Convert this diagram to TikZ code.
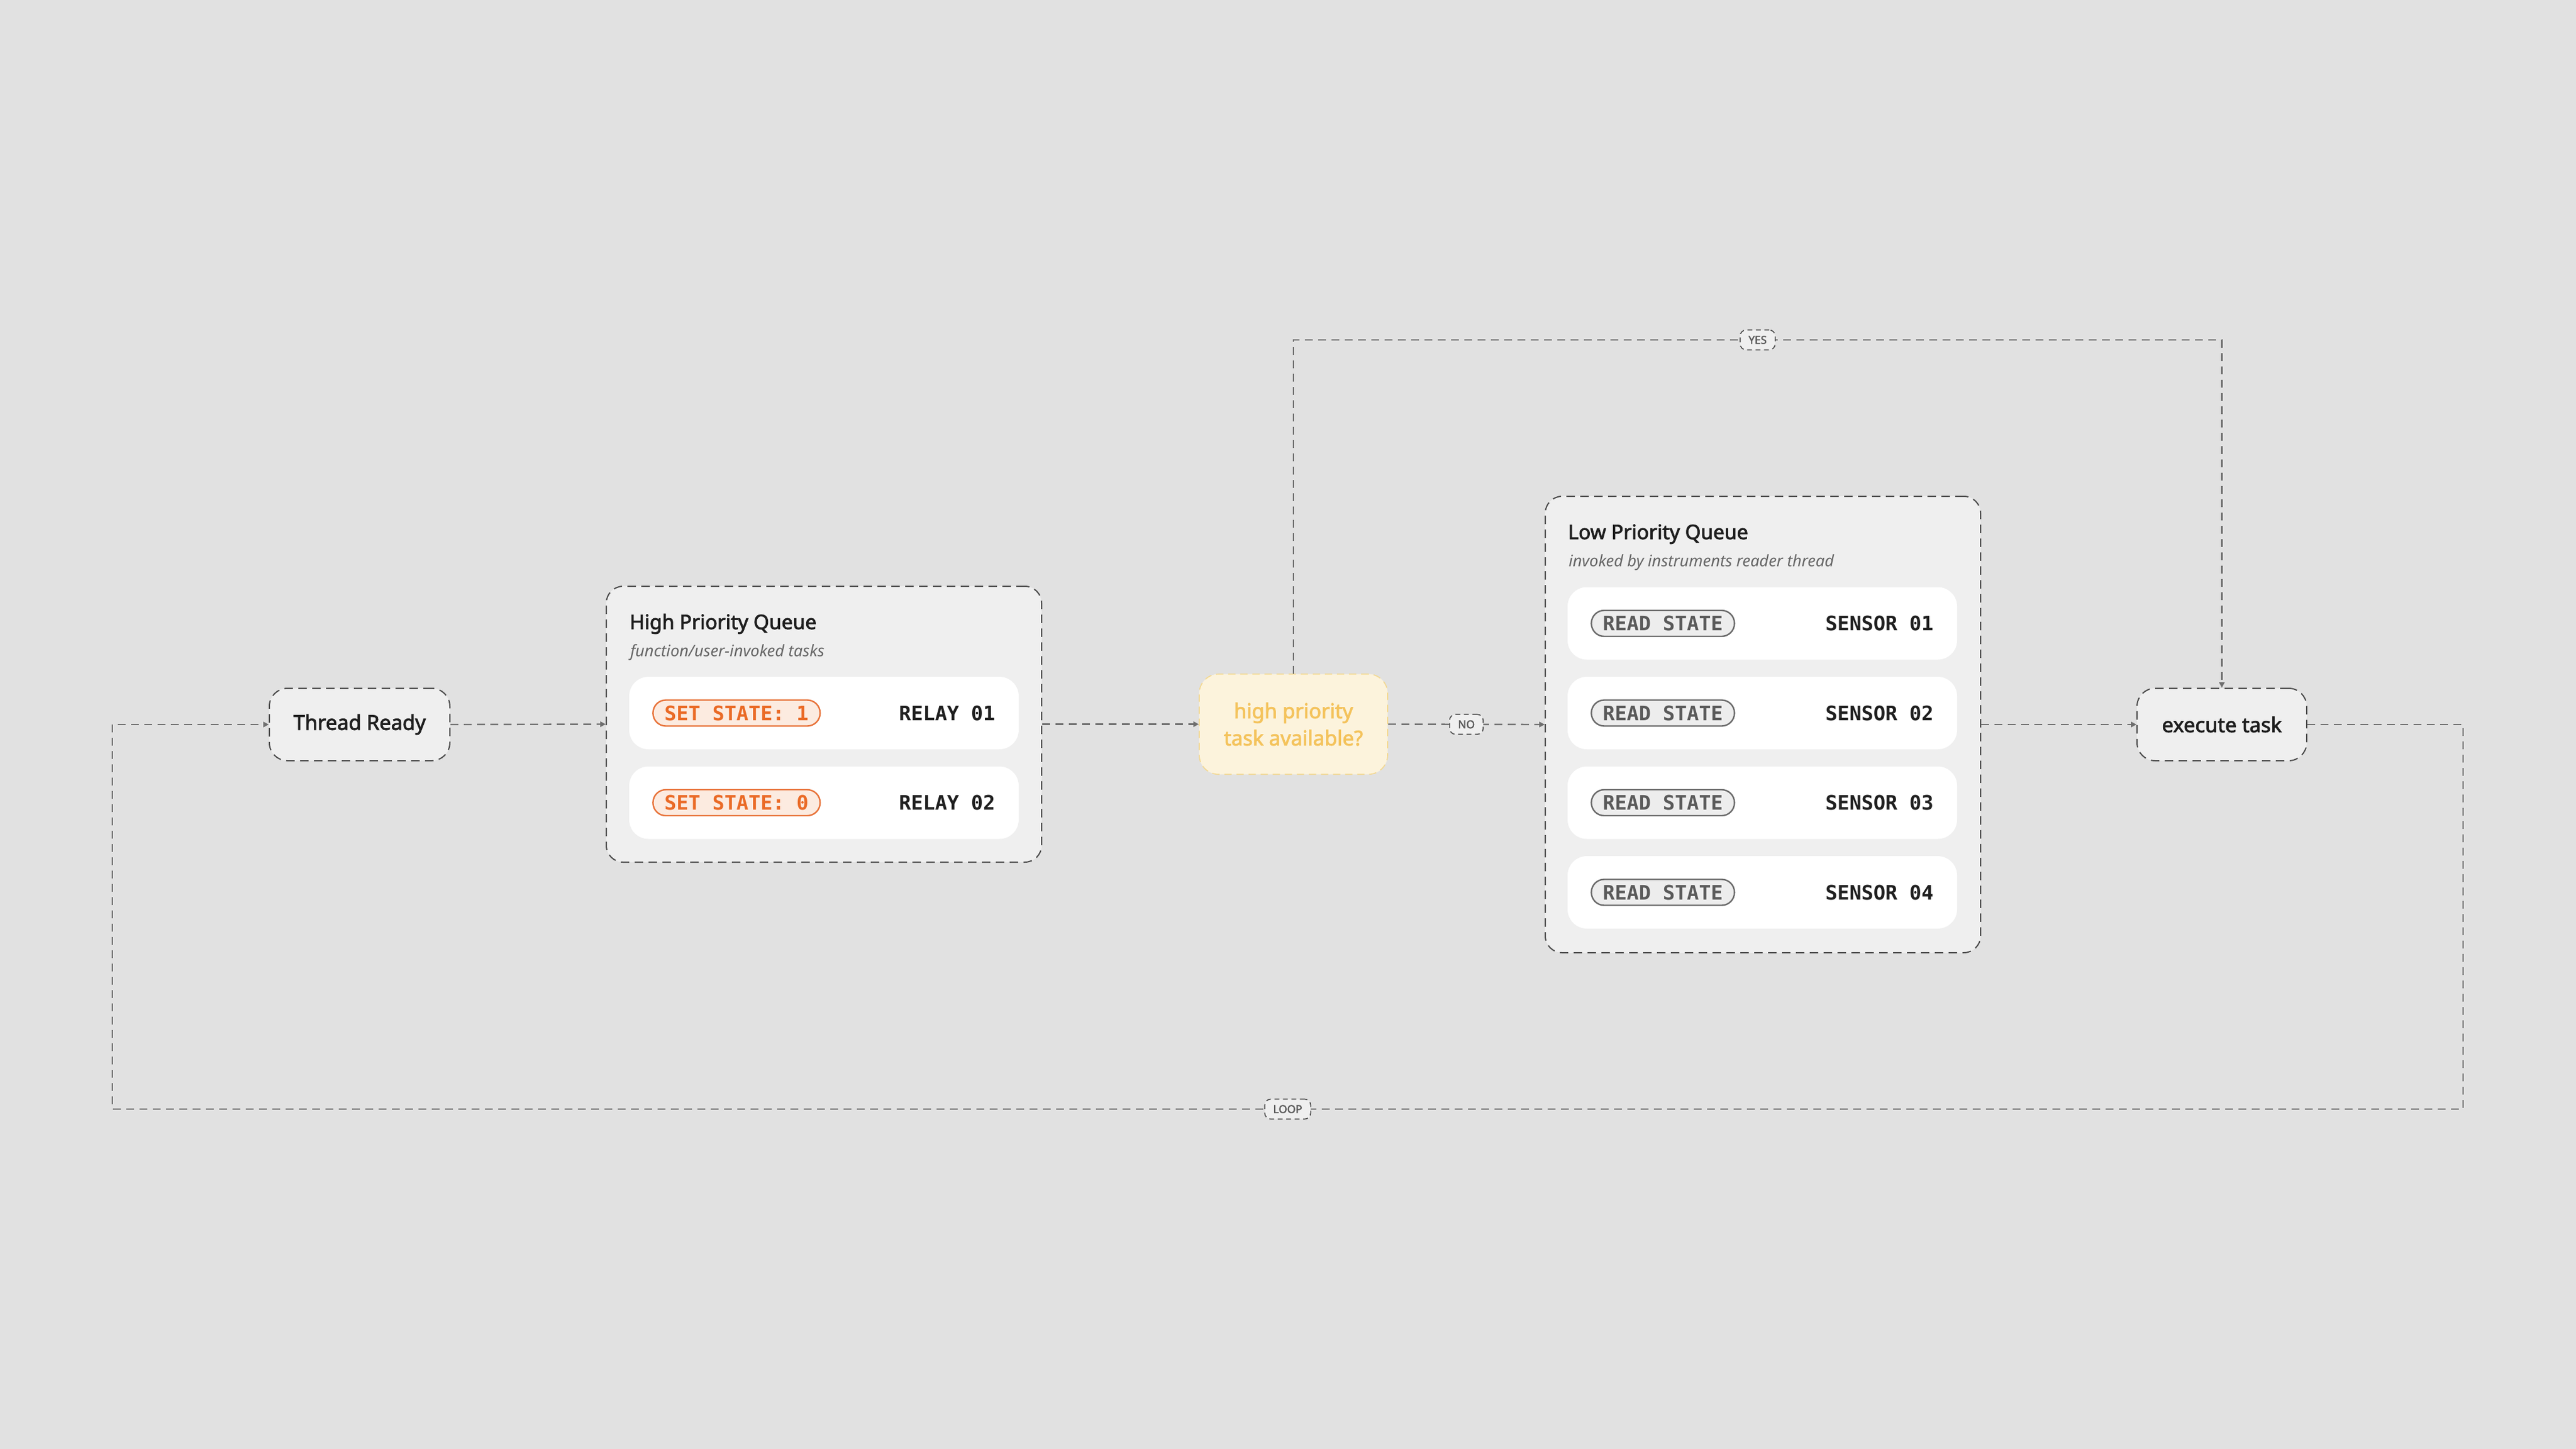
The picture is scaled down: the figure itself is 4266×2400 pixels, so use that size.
\documentclass[tikz,border=0pt]{standalone}
\usepackage{fontspec}
\setmainfont{Noto Sans}
\newfontfamily\medf{Noto Sans}[FakeBold=2.5]
\newfontfamily\monof{DejaVu Sans Mono}
\usetikzlibrary{arrows.meta,calc}
\definecolor{bg}{HTML}{E1E1E1}
\definecolor{boxf}{HTML}{EFEFEF}
\definecolor{bordc}{HTML}{4A4A4A}
\definecolor{linec}{HTML}{6E6E6E}
\definecolor{txt}{HTML}{1F1F1F}
\definecolor{subt}{HTML}{666666}
\definecolor{decf}{HTML}{FCF3DC}
\definecolor{decb}{HTML}{F3D890}
\definecolor{dect}{HTML}{F4C35C}
\definecolor{orb}{HTML}{E8733A}
\definecolor{orf}{HTML}{FCEBE0}
\definecolor{ort}{HTML}{EA6A26}
\definecolor{grb}{HTML}{6A6A6A}
\definecolor{grf}{HTML}{EDEDED}
\definecolor{grt}{HTML}{5A5A5A}
\tikzset{
  dashbox/.style={draw=bordc, line width=0.5pt, dash pattern=on 3.5pt off 2.25pt, fill=boxf},
  procbox/.style={dashbox, rounded corners=7.5pt, minimum width=74.75pt, minimum height=30pt, inner sep=0pt,
    font=\medf\fontsize{8.5}{10}\selectfont, text=txt},
  container/.style={dashbox, rounded corners=7pt, minimum width=180.25pt, inner sep=0pt},
  rowbox/.style={fill=white, rounded corners=8pt, minimum width=161.25pt, minimum height=30pt, inner sep=0pt},
  ttl/.style={anchor=base west, inner sep=0pt, font=\medf\fontsize{8.3}{9}\selectfont, text=txt},
  subttl/.style={anchor=base west, inner sep=0pt, font=\itshape\fontsize{6.6}{7}\selectfont, text=subt},
  pillbase/.style={rounded corners=5.3pt, line width=0.6pt, minimum height=10.75pt, inner ysep=0pt, inner xsep=4.75pt,
    font=\monof\bfseries\fontsize{8.26}{9}\selectfont, anchor=west},
  orpill/.style={pillbase, draw=orb, fill=orf, text=ort},
  grpill/.style={pillbase, draw=grb, fill=grf, text=grt},
  rlabel/.style={anchor=east, inner sep=0pt, font=\monof\bfseries\fontsize{8.26}{9}\selectfont, text=txt},
  conn/.style={draw=linec, line width=0.6pt, dash pattern=on 3.25pt off 2.25pt, -{Triangle[length=2.2pt,width=2.2pt]}},
  lbl/.style={draw=bordc, line width=0.4pt, dash pattern=on 2pt off 1.5pt, fill=boxf, rounded corners=2.5pt,
    minimum height=8.25pt, inner ysep=0pt, inner xsep=3.5pt, font=\medf\fontsize{4.5}{5}\selectfont, text=grt},
}
\begin{document}
\begin{tikzpicture}[x=0.25pt,y=-0.25pt]
\fill[bg] (0,0) rectangle (4266,2400);
\useasboundingbox (0,0) rectangle (4266,2400);

% process nodes
\node[procbox] (tr) at (595.5,1200) {Thread Ready};
\node[procbox, minimum width=70.25pt] (ex) at (3679.5,1200) {execute task};

% decision
\node[draw=decb, fill=decf, line width=0.4pt, dash pattern=on 3pt off 2pt, rounded corners=8pt,
  minimum width=78pt, minimum height=41.5pt, inner sep=0pt, align=center,
  font=\medf\fontsize{8.5}{11.25}\selectfont, text=dect] (dec) at (2142,1199.5) {high priority\\task available?};

% high priority queue
\node[container, minimum height=114.25pt] (hpq) at (1364.5,1199.5) {};
\node[ttl] (hpqt) at (1042,1042) {High Priority Queue};
\node[subttl] (hpqs) at (1043,1087) {function/user-invoked tasks};
\node[rowbox] (r1) at (1364.5,1181) {};
\node[rowbox] (r2) at (1364.5,1329.5) {};
\node[orpill] (p1) at ([xshift=9.75pt]r1.west) {SET STATE: 1};
\node[orpill] (p2) at ([xshift=9.75pt]r2.west) {SET STATE: 0};
\node[rlabel] (l1) at ([xshift=-9.75pt]r1.east) {RELAY 01};
\node[rlabel] (l2) at ([xshift=-9.75pt]r2.east) {RELAY 02};

% low priority queue
\node[container, minimum height=189pt] (lpq) at (2919.5,1200) {};
\node[ttl] (lpqt) at (2596,893) {Low Priority Queue};
\node[subttl] (lpqs) at (2597,938) {invoked by instruments reader thread};
\foreach \i/\y in {1/1032.5,2/1181,3/1329.5,4/1478}{
  \node[rowbox] (s\i) at (2918.5,\y) {};
  \node[grpill] (q\i) at ([xshift=9.75pt]s\i.west) {READ STATE};
  \node[rlabel] (m\i) at ([xshift=-9.75pt]s\i.east) {SENSOR 0\i};
}

% connectors
\coordinate (yl) at (2142,563);
\coordinate (yr) at (3679.5,563);
\coordinate (c1) at (4079,1200);
\coordinate (c2) at (4079,1837);
\coordinate (c3) at (186,1837);
\coordinate (c4) at (186,1200);

\draw[conn] (tr.east) -- (hpq.west);
\draw[conn] (hpq.east) -- (dec.west);
\draw[conn] (dec.east) -- node[lbl] (no) {NO} (lpq.west);
\draw[conn] (lpq.east) -- (ex.west);
\draw[conn] (dec.north) -- (yl) -- node[lbl] (yes) {YES} (yr) -- (ex.north);
\draw[conn] (ex.east) -- (c1) -- (c2) -- node[lbl] (loop) {LOOP} (c3) -- (c4) -- (tr.west);
\end{tikzpicture}
\end{document}
